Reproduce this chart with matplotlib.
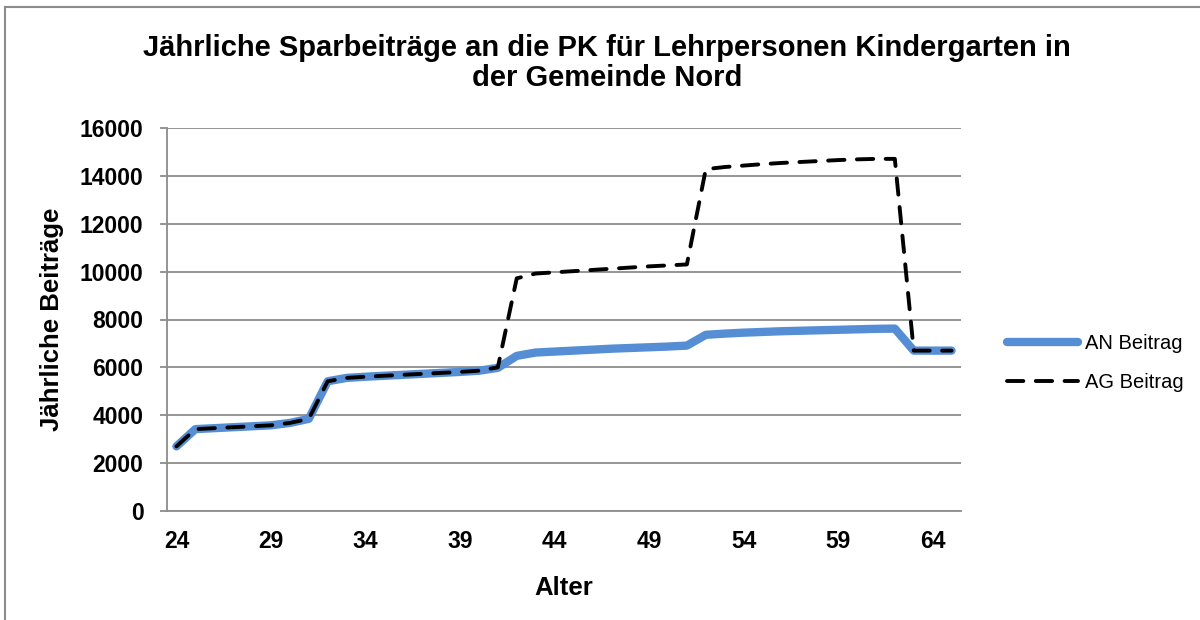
import matplotlib
matplotlib.use("Agg")
import matplotlib.pyplot as plt
from matplotlib.lines import Line2D
import numpy as np

# Data (age 24..65)
ages = list(range(24, 66))
an_beitrag = [
    2700, 3420, 3460, 3500, 3540, 3580, 3680, 3850,
    5420, 5560, 5610, 5650, 5690, 5730, 5770, 5810, 5860, 5980,
    6480, 6620, 6660, 6700, 6740, 6780, 6810, 6840, 6870, 6910,
    7360, 7410, 7450, 7480, 7510, 7530, 7550, 7570, 7590, 7610, 7620,
    6700, 6700, 6700,
]
ag_beitrag = [
    2700, 3420, 3460, 3500, 3540, 3580, 3680, 3850,
    5420, 5560, 5610, 5650, 5690, 5730, 5770, 5810, 5860, 6000,
    9720, 9920, 9970, 10020, 10070, 10120, 10170, 10220, 10260, 10300,
    14280, 14370, 14430, 14490, 14540, 14580, 14620, 14660, 14690, 14710, 14710,
    6700, 6700, 6700,
]
series_names = ["AN Beitrag", "AG Beitrag"]
title = "Jährliche Sparbeiträge an die PK für Lehrpersonen Kindergarten in\nder Gemeinde Nord"

plt.rcParams["font.family"] = ["Liberation Sans", "DejaVu Sans"]

fig = plt.figure(figsize=(12, 6.2), dpi=100)
ax = fig.add_axes([167 / 1200, 1 - 511 / 620, (961 - 167) / 1200, (511 - 128) / 620])

x = np.arange(len(ages))
ax.plot(x, an_beitrag, color="#558ed5", lw=6, solid_joinstyle="round",
        solid_capstyle="round", label=series_names[0], zorder=3)
ax.plot(x, ag_beitrag, color="black", lw=2.8, dashes=(4.2, 3.2),
        dash_capstyle="round", label=series_names[1], zorder=4)

ax.set_xlim(-0.5, len(ages) - 0.5)
ax.set_ylim(0, 16000)
ax.set_yticks(range(0, 16001, 2000))
ax.set_xticks(x[::5])
ax.set_xticklabels([str(a) for a in ages[::5]])

grid_c = "#8c8c8c"
ax.grid(axis="y", color=grid_c, lw=1.3)
ax.set_axisbelow(True)
for s in ["top", "right"]:
    ax.spines[s].set_visible(False)
for s in ["left", "bottom"]:
    ax.spines[s].set_color(grid_c)
    ax.spines[s].set_linewidth(1.3)
ax.tick_params(axis="y", length=5, width=1.3, color=grid_c, pad=12,
               labelsize=16.5)
ax.tick_params(axis="x", length=0, pad=14, labelsize=16.5)
for lbl in ax.get_xticklabels() + ax.get_yticklabels():
    lbl.set_fontweight("bold")

ax.set_xlabel("Alter", fontsize=18.5, fontweight="bold", labelpad=16)
ax.set_ylabel("Jährliche Beiträge", fontsize=18.5, fontweight="bold")
ax.yaxis.set_label_coords(-(167 - 64) / 794, 0.5)

fig.text(607 / 1200, 1 - 63 / 620, title, ha="center", va="center",
         fontsize=21, fontweight="bold", linespacing=1.08)

leg = fig.legend(loc="center left", bbox_to_anchor=(989 / 1200, 1 - 363 / 620),
                 frameon=False, fontsize=14.5, handlelength=3.5,
                 handletextpad=0.35, labelspacing=0.95)

# chart area border (partly cut off in the original)
fig.add_artist(Line2D([5 / 1200, 5 / 1200], [0, 1 - 7 / 620],
                      transform=fig.transFigure, color="#8c8c8c", lw=1.5))
fig.add_artist(Line2D([5 / 1200, 1], [1 - 7 / 620, 1 - 7 / 620],
                      transform=fig.transFigure, color="#8c8c8c", lw=1.5))

fig.savefig("out.png", dpi=100)
